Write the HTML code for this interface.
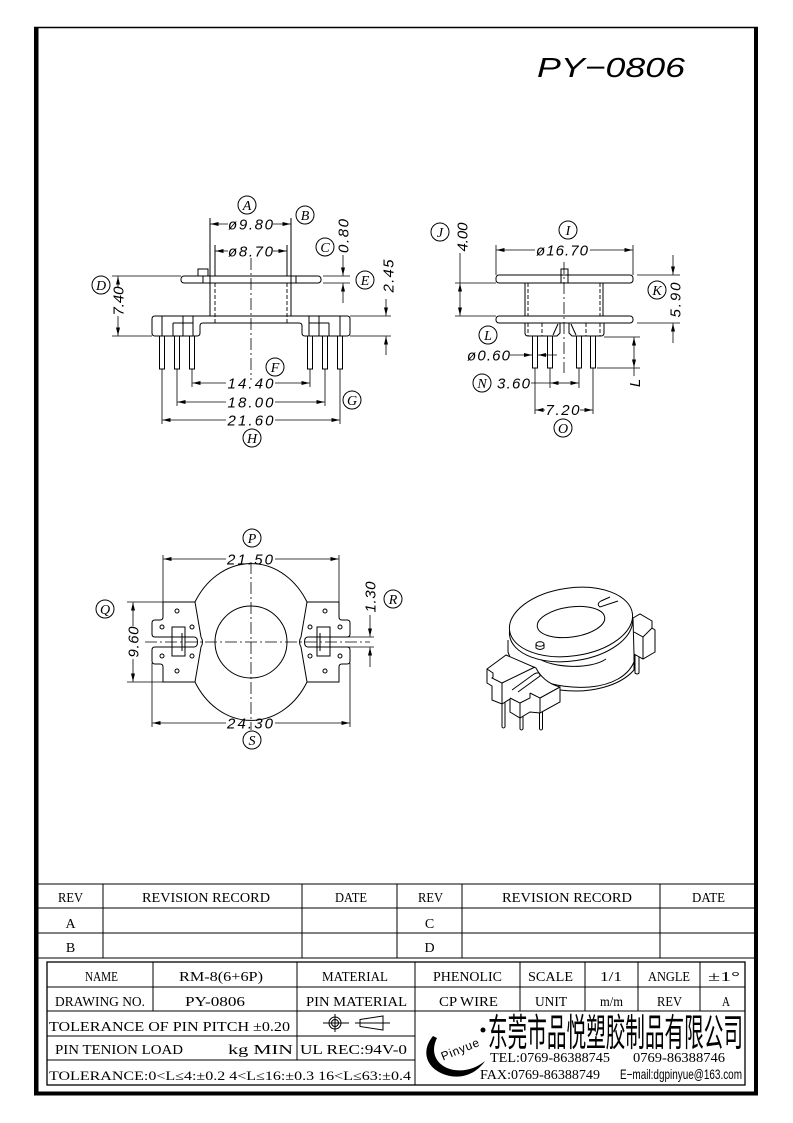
<!DOCTYPE html>
<html><head><meta charset="utf-8"><style>html,body{margin:0;padding:0;background:#fff}svg{display:block}
.l{stroke:#000;stroke-width:1;fill:none}
.w{stroke:#000;stroke-width:1;fill:#fff}
.e{stroke:#000;stroke-width:.8;fill:none}
.dl{stroke:#000;stroke-width:.8;fill:none;marker-end:url(#a)}
.ds{stroke:#000;stroke-width:.9;fill:none;stroke-dasharray:4 2}
.cl{stroke:#000;stroke-width:.8;fill:none;stroke-dasharray:12 3 2 3}
.dim{font-family:"Liberation Sans",sans-serif;font-style:italic;font-size:15px;fill:#000}
.lab{font-family:"Liberation Serif",serif;font-style:italic;font-size:14px;text-anchor:middle;fill:#000}
.tb{font-family:"Liberation Serif",serif;font-size:14px;fill:#000}
.tc{font-family:"Liberation Serif",serif;font-size:14px;fill:#000;text-anchor:middle}
</style></head><body>
<svg width="793" height="1123" viewBox="0 0 793 1123" xmlns="http://www.w3.org/2000/svg">
<defs>
<marker id="a" viewBox="0 0 8 4" refX="8" refY="2" markerWidth="8" markerHeight="4" markerUnits="userSpaceOnUse" orient="auto"><path d="M0,0L8,2L0,4z" fill="#000"/></marker>
</defs>
<rect width="793" height="1123" fill="#fff"/>

<!-- border -->
<line x1="34" y1="27.5" x2="758" y2="27.5" stroke="#000" stroke-width="1.5"/>
<rect x="34" y="27" width="4.5" height="1068" fill="#000"/>
<rect x="754" y="27" width="4" height="1068" fill="#000"/>
<rect x="34" y="1091.5" width="724" height="4" fill="#000"/>

<!-- title -->
<text x="537" y="77" font-family="'Liberation Sans',sans-serif" font-style="italic" font-size="28" textLength="148" lengthAdjust="spacingAndGlyphs">PY−0806</text>

<!-- ================= TOP-LEFT VIEW ================= -->
<g>
<line class="l" x1="210" y1="218" x2="210" y2="316"/>
<line class="l" x1="291" y1="218" x2="291" y2="316"/>
<line class="l" x1="215" y1="245" x2="215" y2="276"/>
<line class="l" x1="287" y1="245" x2="287" y2="276"/>
<line class="ds" x1="215" y1="283" x2="215" y2="323"/>
<line class="ds" x1="287" y1="283" x2="287" y2="323"/>
<rect class="w" x="181" y="276" width="140" height="7" rx="3"/>
<rect class="w" x="198" y="269" width="10" height="7"/>
<line class="l" x1="203" y1="276" x2="203" y2="283"/>
<line class="l" x1="210" y1="276" x2="210" y2="283"/>
<line class="l" x1="291" y1="276" x2="291" y2="283"/>
<line class="l" x1="296" y1="276" x2="296" y2="283"/>
<path class="l" d="M155,316 L347,316 Q350,316 350,319 L350,333 Q350,336 347,336 L305,336 Q302,336 302,333 L302,326 Q302,323 299,323 L203,323 Q200,323 200,326 L200,333 Q200,336 197,336 L155,336 Q152,336 152,333 L152,319 Q152,316 155,316 Z"/>
<path class="l" d="M162,316V336 M183,316V336 M193,316V336 M173,323V336 M173,323H193 M340,316V336 M319,316V336 M309,316V336 M329,323V336 M309,323H329"/>
<rect class="w" x="159.5" y="336" width="5" height="33"/>
<rect class="w" x="174.5" y="336" width="5" height="33"/>
<rect class="w" x="189.5" y="336" width="5" height="33"/>
<rect class="w" x="307.5" y="336" width="5" height="33"/>
<rect class="w" x="322.5" y="336" width="5" height="33"/>
<rect class="w" x="337.5" y="336" width="5" height="33"/>
<line class="cl" x1="251" y1="258" x2="251" y2="380"/>
<path class="e" d="M162,369V424 M177,369V406 M192,369V387 M310,369V387 M325,369V406 M340,369V424"/>
<line class="dl" x1="228" y1="224" x2="210.5" y2="224"/><line class="dl" x1="273" y1="224" x2="290.5" y2="224"/>
<text class="dim" x="250.5" y="229.5" text-anchor="middle" textLength="45">ø9.80</text>
<line class="dl" x1="228" y1="251" x2="215.5" y2="251"/><line class="dl" x1="273" y1="251" x2="286.5" y2="251"/>
<text class="dim" x="250.5" y="256.5" text-anchor="middle" textLength="45">ø8.70</text>
<line class="dl" x1="226" y1="383" x2="192.5" y2="383"/><line class="dl" x1="275" y1="383" x2="309.5" y2="383"/>
<text class="dim" x="250.5" y="388.5" text-anchor="middle" textLength="46">14.40</text>
<line class="dl" x1="226" y1="402" x2="177.5" y2="402"/><line class="dl" x1="275" y1="402" x2="324.5" y2="402"/>
<text class="dim" x="250.5" y="407.5" text-anchor="middle" textLength="46">18.00</text>
<line class="dl" x1="226" y1="420" x2="162.5" y2="420"/><line class="dl" x1="275" y1="420" x2="339.5" y2="420"/>
<text class="dim" x="250.5" y="425.5" text-anchor="middle" textLength="46">21.60</text>
<path class="e" d="M112,276H181 M112,336H152"/>
<line class="dl" x1="118" y1="287" x2="118" y2="276.5"/><line class="dl" x1="118" y1="316" x2="118" y2="335.5"/>
<text class="dim" transform="translate(123.5,301) rotate(-90)" text-anchor="middle" textLength="29">7.40</text>
<path class="e" d="M323,276H350 M323,283H350"/>
<line class="dl" x1="343" y1="255" x2="343" y2="275.5"/><line class="dl" x1="343" y1="303" x2="343" y2="283.5"/>
<text class="dim" transform="translate(348.5,236) rotate(-90)" text-anchor="middle" textLength="34">0.80</text>
<path class="e" d="M350,316H391 M350,336H391"/>
<line class="dl" x1="386" y1="299" x2="386" y2="315.5"/><line class="dl" x1="386" y1="355" x2="386" y2="336.5"/>
<text class="dim" transform="translate(393.5,276) rotate(-90)" text-anchor="middle" textLength="33">2.45</text>
<circle class="l" cx="247" cy="205" r="9"/><text class="lab" x="247" y="210">A</text>
<circle class="l" cx="305" cy="215" r="9"/><text class="lab" x="305" y="220">B</text>
<circle class="l" cx="325" cy="247" r="9"/><text class="lab" x="325" y="252">C</text>
<circle class="l" cx="101" cy="285" r="9"/><text class="lab" x="101" y="290">D</text>
<circle class="l" cx="365" cy="280" r="9"/><text class="lab" x="365" y="285">E</text>
<circle class="l" cx="275" cy="367" r="9"/><text class="lab" x="275" y="372">F</text>
<circle class="l" cx="352" cy="400" r="9"/><text class="lab" x="352" y="405">G</text>
<circle class="l" cx="252" cy="438" r="9"/><text class="lab" x="252" y="443">H</text>
</g>

<!-- ================= TOP-RIGHT VIEW ================= -->
<g>
<path class="e" d="M496,245V275 M633,245V275"/>
<line class="dl" x1="535" y1="250" x2="496.5" y2="250"/><line class="dl" x1="590" y1="250" x2="632.5" y2="250"/>
<text class="dim" x="562" y="255.5" text-anchor="middle" textLength="52">ø16.70</text>
<rect class="w" x="496" y="275" width="137" height="8" rx="3"/>
<rect class="w" x="561" y="269" width="7" height="6"/>
<path class="l" d="M561,275V283 M568,275V283"/>
<rect class="w" x="496" y="316" width="137" height="7" rx="3"/>
<path class="l" d="M525,283V316 M603,283V316"/>
<path class="ds" d="M528,283V316 M600,283V316"/>
<path class="l" d="M525,323 L525,333 Q525,336 528,336 L557,336 L560,333 L560,323 M569,323 L569,333 L572,336 L601,336 Q604,336 604,333 L604,323 M553,335 L558,324 M571,324 L576,335"/>
<path class="ds" d="M542,323V336 M586,323V336 M528,323V336 M600,323V336"/>
<line class="cl" x1="564" y1="262" x2="564" y2="373"/>
<rect class="w" x="532.5" y="336" width="5" height="32"/>
<rect class="w" x="547.5" y="336" width="5" height="32"/>
<rect class="w" x="576.5" y="336" width="5" height="32"/>
<rect class="w" x="590.5" y="336" width="5" height="32"/>
<path class="e" d="M455,283H496 M455,316H496"/>
<line class="e" x1="460" y1="253" x2="460" y2="283"/>
<line class="dl" x1="460" y1="299" x2="460" y2="283.5"/><line class="dl" x1="460" y1="299" x2="460" y2="315.5"/>
<text class="dim" transform="translate(467.5,237) rotate(-90)" text-anchor="middle" textLength="29">4.00</text>
<path class="e" d="M637,275H680 M637,323H680"/>
<line class="dl" x1="673" y1="255" x2="673" y2="274.5"/><line class="dl" x1="673" y1="343" x2="673" y2="323.5"/>
<text class="dim" transform="translate(680.5,300) rotate(-90)" text-anchor="middle" textLength="35">5.90</text>
<path class="e" d="M604,337H640 M597,368H640"/>
<line class="dl" x1="634" y1="352" x2="634" y2="337.5"/><line class="dl" x1="634" y1="352" x2="634" y2="367.5"/>
<line class="e" x1="634" y1="368" x2="634" y2="376"/>
<text class="dim" transform="translate(640,383) rotate(-90)" text-anchor="middle">L</text>
<text class="dim" x="467" y="360.5" textLength="43">ø0.60</text>
<line class="dl" x1="510" y1="355" x2="532" y2="355"/><line class="dl" x1="557" y1="355" x2="538" y2="355"/>
<path class="e" d="M550,368V388 M579,368V388 M535,368V414 M593,368V414"/>
<text class="dim" x="513.5" y="388.5" text-anchor="middle" textLength="33">3.60</text>
<line class="e" x1="531" y1="383" x2="550" y2="383"/>
<line class="dl" x1="565" y1="383" x2="550.5" y2="383"/><line class="dl" x1="565" y1="383" x2="578.5" y2="383"/>
<line class="dl" x1="545" y1="410" x2="535.5" y2="410"/><line class="dl" x1="580" y1="410" x2="592.5" y2="410"/>
<text class="dim" x="562.5" y="415" text-anchor="middle" textLength="34">7.20</text>
<circle class="l" cx="568" cy="230" r="9"/><text class="lab" x="568" y="235">I</text>
<circle class="l" cx="440" cy="232" r="9"/><text class="lab" x="440" y="237">J</text>
<circle class="l" cx="657" cy="290" r="9"/><text class="lab" x="657" y="295">K</text>
<circle class="l" cx="488" cy="335" r="9"/><text class="lab" x="488" y="340">L</text>
<circle class="l" cx="482" cy="383" r="9"/><text class="lab" x="482" y="388">N</text>
<circle class="l" cx="563" cy="428" r="9"/><text class="lab" x="563" y="433">O</text>
</g>

<!-- ================= BOTTOM-LEFT VIEW ================= -->
<g>
<path class="l" d="M195,602 A65,78 0 0 1 307,602"/>
<path class="l" d="M195,682 A65,78 0 0 0 307,682"/>
<circle class="l" cx="251" cy="642" r="36"/>
<g>
<path class="l" d="M163,602 L195,602 L201,637 Q204,642 201,647 L195,682 L163,682 L163,667 Q163,664 160,664 L155,664 Q152,664 152,661 L152,650 Q152,647 155,647 L194,647 Q197.5,647 197.5,642 Q197.5,637 194,637 L155,637 Q152,637 152,634 L152,623 Q152,620 155,620 L160,620 Q163,620 163,617 Z"/>
<circle class="l" cx="177" cy="611" r="2"/><circle class="l" cx="162" cy="627" r="2"/><circle class="l" cx="192" cy="627" r="2"/>
<circle class="l" cx="162" cy="656" r="2"/><circle class="l" cx="192" cy="656" r="2"/><circle class="l" cx="177" cy="671" r="2"/>
<rect class="l" x="172" y="627" width="13" height="29"/>
<line class="l" x1="182" y1="633" x2="182" y2="651"/>
</g>
<g transform="translate(502,0) scale(-1,1)">
<path class="l" d="M163,602 L195,602 L201,637 Q204,642 201,647 L195,682 L163,682 L163,667 Q163,664 160,664 L155,664 Q152,664 152,661 L152,650 Q152,647 155,647 L194,647 Q197.5,647 197.5,642 Q197.5,637 194,637 L155,637 Q152,637 152,634 L152,623 Q152,620 155,620 L160,620 Q163,620 163,617 Z"/>
<circle class="l" cx="177" cy="611" r="2"/><circle class="l" cx="162" cy="627" r="2"/><circle class="l" cx="192" cy="627" r="2"/>
<circle class="l" cx="162" cy="656" r="2"/><circle class="l" cx="192" cy="656" r="2"/><circle class="l" cx="177" cy="671" r="2"/>
<rect class="l" x="172" y="627" width="13" height="29"/>
<line class="l" x1="182" y1="633" x2="182" y2="651"/>
</g>
<line class="cl" x1="145" y1="642" x2="370" y2="642"/>
<line class="cl" x1="251" y1="562" x2="251" y2="730"/>
<path class="e" d="M163,555V602 M339,555V602"/>
<line class="dl" x1="226" y1="559" x2="163.5" y2="559"/><line class="dl" x1="275" y1="559" x2="338.5" y2="559"/>
<text class="dim" x="250" y="564.5" text-anchor="middle" textLength="46">21.50</text>
<path class="e" d="M152,663V727 M350,663V727"/>
<line class="dl" x1="226" y1="723" x2="152.5" y2="723"/><line class="dl" x1="275" y1="723" x2="349.5" y2="723"/>
<text class="dim" x="250" y="728.5" text-anchor="middle" textLength="46">24.30</text>
<path class="e" d="M127,602H163 M127,682H163"/>
<line class="dl" x1="133" y1="626" x2="133" y2="602.5"/><line class="dl" x1="133" y1="659" x2="133" y2="681.5"/>
<text class="dim" transform="translate(138.5,642) rotate(-90)" text-anchor="middle" textLength="31">9.60</text>
<path class="e" d="M345,637H374 M345,647H374"/>
<line class="dl" x1="370" y1="615" x2="370" y2="636.5"/><line class="dl" x1="370" y1="667" x2="370" y2="647.5"/>
<text class="dim" transform="translate(375.5,597) rotate(-90)" text-anchor="middle" textLength="31">1.30</text>
<circle class="l" cx="252" cy="538" r="9"/><text class="lab" x="252" y="543">P</text>
<circle class="l" cx="105" cy="609" r="9"/><text class="lab" x="105" y="614">Q</text>
<circle class="l" cx="393" cy="599" r="9"/><text class="lab" x="393" y="604">R</text>
<circle class="l" cx="252" cy="740" r="9"/><text class="lab" x="252" y="745">S</text>
</g>

<!-- ================= 3D VIEW ================= -->
<g>
<path class="w" d="M502,700 V727 Q503.5,729 505,727 V702"/>
<path class="w" d="M520,712 V729 Q521.5,731 523,729 V713"/>
<path class="w" d="M539.5,708 V729 Q541,731 542.5,729 V708"/>
<path class="w" d="M635,655 V673 Q637,675 639,673 V656"/>
<path class="l" d="M508,640 L508,652 C515,676 555,690 590,687 C612,685 628,676 634,662 L634,650"/>
<path class="l" d="M560,690 C590,694 620,686 634,670 L634,662"/>
<path class="l" d="M538,658 C552,668 590,670 606,659"/>
<path class="w" d="M633,618 L640,614 L652,621 L652,628 L655,630 L655,652 L643,659 L634,654 Z"/>
<path class="l" d="M643,659 L643,637 L634,632 M643,637 L652,628"/>
<path class="w" d="M506,655 L487,669 L487,683 L492,686 L492,700 L502,704 L510,699 L510,712 L520,718 L530,712 L540,713 L560,702 L560,687 C548,684 540,676 536,668 Z"/>
<path class="l" d="M487,669 L493,673 L493,677 L492,678 L502,683 L502,704 M502,683 L535,667 M512,690 L534,674 Q540,671 540,676 L518,692 M510,698 L520,703 L520,718 M520,703 L530,698 L530,693 M530,693 L540,698 L540,713 M540,698 L560,687"/>
<ellipse class="w" cx="571" cy="627" rx="62" ry="34" transform="rotate(-8 571 627)"/>
<ellipse class="w" cx="571" cy="622" rx="62" ry="34" transform="rotate(-8 571 622)"/>
<ellipse class="l" cx="571" cy="622" rx="34" ry="15" transform="rotate(-8 571 622)"/>
<path class="w" d="M610,597 L601,601 Q596,604 600,607 L618,601"/>
<path class="w" d="M536,644 V648 Q540,651 544,648 V644"/>
<ellipse class="w" cx="540" cy="644" rx="4" ry="2.3"/>
</g>

<!-- ================= TITLE BLOCK ================= -->
<g stroke="#000" stroke-width="1" fill="none">
<line x1="36" y1="884" x2="755" y2="884"/>
<line x1="36" y1="908" x2="755" y2="908"/>
<line x1="36" y1="933" x2="755" y2="933"/>
<line x1="36" y1="958" x2="755" y2="958"/>
<line x1="103" y1="884" x2="103" y2="958"/>
<line x1="302" y1="884" x2="302" y2="958"/>
<line x1="397" y1="884" x2="397" y2="958"/>
<line x1="462" y1="884" x2="462" y2="958"/>
<line x1="660" y1="884" x2="660" y2="958"/>
<rect x="47" y="962" width="698" height="123" stroke-width="1.3"/>
<line x1="47" y1="987" x2="745" y2="987"/>
<line x1="47" y1="1011" x2="745" y2="1011"/>
<line x1="47" y1="1036" x2="415" y2="1036"/>
<line x1="47" y1="1060" x2="415" y2="1060"/>
<line x1="153" y1="962" x2="153" y2="1011"/>
<line x1="297" y1="962" x2="297" y2="1060"/>
<line x1="415" y1="962" x2="415" y2="1085"/>
<line x1="520" y1="962" x2="520" y2="1011"/>
<line x1="585" y1="962" x2="585" y2="1011"/>
<line x1="638" y1="962" x2="638" y2="1011"/>
<line x1="700" y1="962" x2="700" y2="1011"/>
</g>
<g>
<text class="tb" x="58" y="902" textLength="25" lengthAdjust="spacingAndGlyphs">REV</text>
<text class="tb" x="142" y="902" textLength="128" lengthAdjust="spacingAndGlyphs">REVISION RECORD</text>
<text class="tb" x="335" y="902" textLength="32" lengthAdjust="spacingAndGlyphs">DATE</text>
<text class="tb" x="418" y="902" textLength="25" lengthAdjust="spacingAndGlyphs">REV</text>
<text class="tb" x="502" y="902" textLength="130" lengthAdjust="spacingAndGlyphs">REVISION RECORD</text>
<text class="tb" x="692" y="902" textLength="33" lengthAdjust="spacingAndGlyphs">DATE</text>
<text class="tc" x="70.5" y="928">A</text>
<text class="tc" x="70.5" y="952">B</text>
<text class="tc" x="429.5" y="928">C</text>
<text class="tc" x="429.5" y="952">D</text>
<text class="tb" x="85" y="981" textLength="33" lengthAdjust="spacingAndGlyphs">NAME</text>
<text class="tb" x="179" y="981" textLength="84" lengthAdjust="spacingAndGlyphs">RM-8(6+6P)</text>
<text class="tb" x="322" y="981" textLength="66" lengthAdjust="spacingAndGlyphs">MATERIAL</text>
<text class="tb" x="433" y="981" textLength="69" lengthAdjust="spacingAndGlyphs">PHENOLIC</text>
<text class="tb" x="528" y="981" textLength="45" lengthAdjust="spacingAndGlyphs">SCALE</text>
<text class="tb" x="600" y="981" textLength="22" lengthAdjust="spacingAndGlyphs">1/1</text>
<text class="tb" x="648" y="981" textLength="42" lengthAdjust="spacingAndGlyphs">ANGLE</text>
<text class="tb" x="708" y="981" textLength="32" lengthAdjust="spacingAndGlyphs">±1°</text>
<text class="tb" x="55" y="1006" textLength="90" lengthAdjust="spacingAndGlyphs">DRAWING NO.</text>
<text class="tb" x="185" y="1006" textLength="60" lengthAdjust="spacingAndGlyphs">PY-0806</text>
<text class="tb" x="306" y="1006" textLength="101" lengthAdjust="spacingAndGlyphs">PIN MATERIAL</text>
<text class="tb" x="439" y="1006" textLength="59" lengthAdjust="spacingAndGlyphs">CP WIRE</text>
<text class="tb" x="535" y="1006" textLength="32" lengthAdjust="spacingAndGlyphs">UNIT</text>
<text class="tb" x="600" y="1006" textLength="23" lengthAdjust="spacingAndGlyphs">m/m</text>
<text class="tb" x="657" y="1006" textLength="25" lengthAdjust="spacingAndGlyphs">REV</text>
<text class="tb" x="722" y="1006" textLength="8" lengthAdjust="spacingAndGlyphs">A</text>
<text class="tb" x="49" y="1031" textLength="241" lengthAdjust="spacingAndGlyphs">TOLERANCE OF PIN PITCH ±0.20</text>
<text class="tb" x="55" y="1054" textLength="128" lengthAdjust="spacingAndGlyphs">PIN TENION LOAD</text>
<text class="tb" x="228" y="1054" textLength="65" lengthAdjust="spacingAndGlyphs">kg MIN</text>
<text class="tb" x="300" y="1054" textLength="107" lengthAdjust="spacingAndGlyphs">UL REC:94V-0</text>
<text class="tb" x="49" y="1080" textLength="362" lengthAdjust="spacingAndGlyphs" style="font-size:12.5px">TOLERANCE:0&lt;L≤4:±0.2  4&lt;L≤16:±0.3  16&lt;L≤63:±0.4</text>
</g>
<g stroke="#000" stroke-width="1" fill="none">
<circle cx="335" cy="1023" r="6"/><circle cx="335" cy="1023" r="3.5"/>
<line x1="323" y1="1023" x2="349" y2="1023"/><line x1="335" y1="1014" x2="335" y2="1032"/>
<path d="M360,1019.5 L383,1016 L383,1030 L360,1026.5 Z"/>
<line x1="355" y1="1023" x2="390" y2="1023"/>
</g>
<path d="M433,1036 C420,1052 427,1069 446,1075 C462,1080 477,1073 485,1061 C474,1070 460,1073 447,1068 C434,1062 431,1050 437,1038 Z" fill="#000"/>
<text x="438" y="1055" transform="rotate(-22 455 1045)" font-family="'Liberation Sans',sans-serif" font-size="12" textLength="40">Pinyue</text>
<circle cx="483" cy="1030" r="2.5" fill="#000"/>
<text x="488" y="1046" font-family="'Liberation Sans','Noto Sans CJK SC',sans-serif" font-size="38" textLength="255" lengthAdjust="spacingAndGlyphs">东莞市品悦塑胶制品有限公司</text>
<text class="tb" x="490" y="1062" textLength="120" lengthAdjust="spacingAndGlyphs" style="font-size:13.5px">TEL:0769-86388745</text>
<text class="tb" x="633" y="1062" textLength="92" lengthAdjust="spacingAndGlyphs" style="font-size:13.5px">0769-86388746</text>
<text class="tb" x="480" y="1079" textLength="120" lengthAdjust="spacingAndGlyphs" style="font-size:13.5px">FAX:0769-86388749</text>
<text x="620" y="1079" font-family="'Liberation Sans',sans-serif" font-size="14" textLength="122" lengthAdjust="spacingAndGlyphs">E−mail:dgpinyue@163.com</text>
</svg>
</body></html>
